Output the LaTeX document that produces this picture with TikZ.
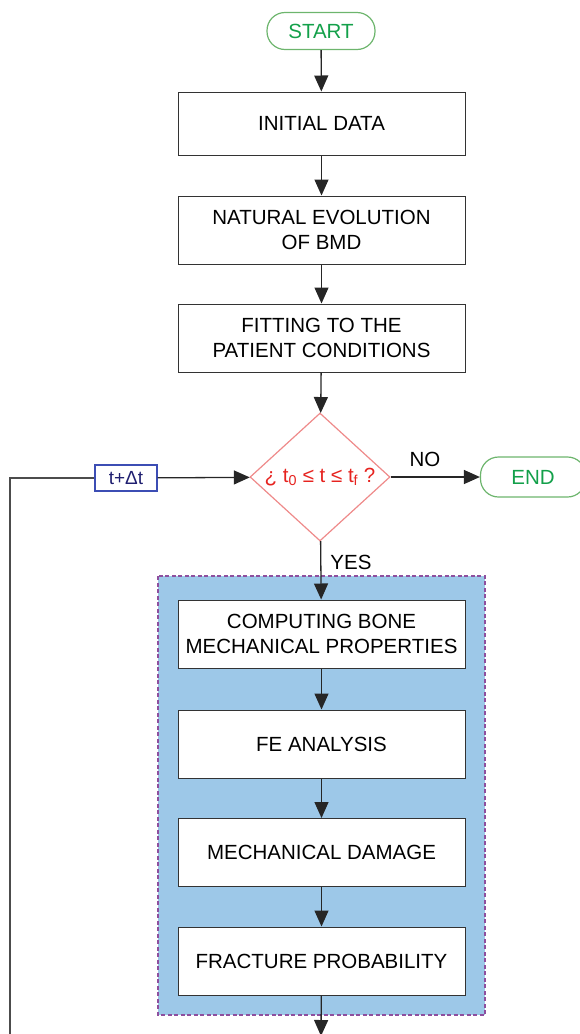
\documentclass[tikz,border=0pt]{standalone}
\usepackage{fontspec}
\setmainfont{Liberation Sans}
\usetikzlibrary{shapes.geometric,arrows.meta}
\definecolor{termgreen}{HTML}{6DB56D}
\definecolor{termtext}{HTML}{13A04A}
\definecolor{condpink}{HTML}{EE8A8A}
\definecolor{condred}{HTML}{E6231F}
\definecolor{incrblue}{HTML}{3C4DB4}
\definecolor{incrtext}{HTML}{1F1F70}
\definecolor{loopfill}{HTML}{9DC8E8}
\definecolor{loopedge}{HTML}{8E4F9E}
\begin{document}
\begin{tikzpicture}[
  x=1pt, y=-1pt,
  font=\fontsize{20.5}{25}\selectfont,
  term/.style={draw=termgreen, text=termtext, rounded corners=18pt, minimum width=108pt, minimum height=37pt, line width=1.2pt},
  proc/.style={draw=black!80, fill=white, minimum width=287pt, minimum height=68pt, align=center, line width=1pt},
  cond/.style={diamond, draw=condpink, text=condred, aspect=1.09, minimum width=140pt, minimum height=128pt, inner sep=0pt, line width=1.2pt},
  incr/.style={draw=incrblue, text=incrtext, minimum width=62pt, minimum height=26pt, inner sep=0pt, line width=1.2pt, font=\fontsize{19}{20}\selectfont},
  flow/.style={draw=black!85, line width=1.3pt},
  >={Triangle[length=16pt,width=14pt]}
]
  \useasboundingbox (0,0) rectangle (580,1034);
  \clip (0,0) rectangle (580,1034);
  % loop region
  \fill[loopfill] (158,576) rectangle (485,1015);
  \draw[loopedge, dash pattern=on 4pt off 2.5pt, line width=1.2pt] (158,576) rectangle (485,1015);
  \node[term] (start) at (321,31) {START};
  \node[proc, minimum height=63pt] (init) at (321.5,123.5) {INITIAL DATA};
  \node[proc] (nat) at (321.5,230) {NATURAL EVOLUTION\\OF BMD};
  \node[proc] (fit) at (321.5,338) {FITTING TO THE\\PATIENT CONDITIONS};
  \node[cond] (cond) at (320,477) {¿ t\textsubscript{0} ≤ t ≤ t\textsubscript{f} ?};
  \node[term, minimum width=105pt, minimum height=40pt] (end) at (533,477) {END};
  \node[incr] (dt) at (126,478) {t+Δt};
  \node (no) at (425,459) {NO};
  \node (yes) at (351,562) {YES};
  \node[proc] (comp) at (321.5,634) {COMPUTING BONE\\MECHANICAL PROPERTIES};
  \node[proc] (fea) at (321.5,744) {FE ANALYSIS};
  \node[proc] (dmg) at (321.5,852.5) {MECHANICAL DAMAGE};
  \node[proc] (frac) at (321.5,961) {FRACTURE PROBABILITY};
  \coordinate (out) at (321,1036);
  \coordinate (loopb) at (10,1040);
  \coordinate (loopt) at (10,478);
  \draw[->, flow] (start) -- (init);
  \draw[->, flow] (init) -- (nat);
  \draw[->, flow] (nat) -- (fit);
  \draw[->, flow] (fit) -- (cond);
  \draw[->, flow] (cond) -- (end);
  \draw[->, flow] (cond) -- (comp);
  \draw[->, flow] (comp) -- (fea);
  \draw[->, flow] (fea) -- (dmg);
  \draw[->, flow] (dmg) -- (frac);
  \draw[->, flow] (frac) -- (out);
  % time step back to the check
  \draw[flow, draw=black!70] (loopb) -- (loopt) -- (dt);
  \draw[->, flow] (dt) -- (cond);
\end{tikzpicture}
\end{document}
